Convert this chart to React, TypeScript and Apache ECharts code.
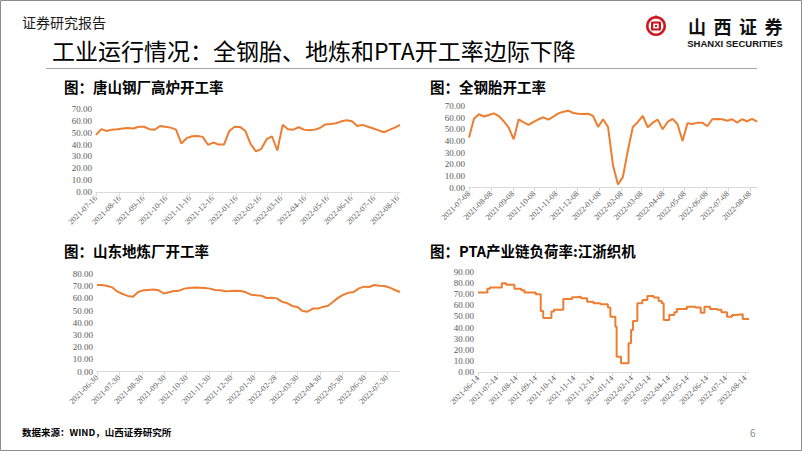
import React, { useEffect, useRef } from "react";
import * as echarts from "echarts";

const ORANGE = "#ED7D31";

// 图：唐山钢厂高炉开工率 (weekly, from 2021-07-16)
const tangshanStart = "2021-07-16";
const tangshanValues = [
  48.2, 53, 51.5, 52.6, 53, 53.5, 54, 53.6, 55, 55,
  53, 52.5, 55.7, 55, 54.3, 52.6, 40.9, 45.4, 47, 47.3,
  46.5, 39.8, 41.7, 40, 40, 51.5, 55, 54.9, 51.5, 40.3,
  34.2, 36.4, 44.5, 47, 35, 56.6, 53, 52.6, 54.6, 52.6,
  52, 52.6, 54, 57, 57.4, 58, 59.6, 60.5, 59.6, 55.7,
  56.6, 55, 53.5, 52, 50.4, 52.4, 54.3, 56.6,
];

// 图：全钢胎开工率 (weekly, from 2021-07-08)
const tyreStart = "2021-07-08";
const tyreValues = [
  42.9, 59, 62.9, 61, 62.3, 63.7, 61.4, 56.9, 51.4, 41.4,
  58.6, 56, 53.7, 56.3, 58.6, 60.3, 58.3, 60.9, 63.7, 65.1,
  66, 64, 63.4, 63.1, 63.4, 61.4, 52, 58.6, 52, 19.1,
  2.6, 9.1, 32, 52, 56.3, 61.4, 51.7, 55.7, 58.3, 50,
  56.3, 58.9, 54.3, 40, 55.1, 54.6, 55.7, 55.7, 52.6, 58.6,
  58.9, 58.6, 57.4, 58.6, 55.7, 58.6, 56.9, 59, 56.6,
];

// 图：山东地炼厂开工率 (weekly, from 2021-06-30)
const refineryStart = "2021-06-30";
const refineryValues = [
  71, 71, 70.2, 69, 65.5, 63.6, 62, 61.4, 65.2, 66.6,
  66.9, 67.2, 66.6, 64, 65, 66, 66.3, 68, 68.5, 69,
  68.8, 68.5, 68, 66.9, 66.6, 65.8, 66, 66.3, 66, 65,
  63, 62.5, 62.2, 60.3, 60.6, 60, 57.3, 56.2, 53.8, 53,
  49.7, 49.1, 51.6, 51.6, 53, 54, 57.3, 60.6, 63, 64.7,
  65.2, 68.2, 69.6, 69.3, 71, 70.4, 70.2, 68.8, 66.9, 65.2,
];

// 图：PTA产业链负荷率:江浙织机 (values hold until the next date)
const ptaDates = [
  "2021-06-14", "2021-06-29", "2021-07-03", "2021-07-22", "2021-07-29",
  "2021-08-11", "2021-08-22", "2021-08-27", "2021-09-14", "2021-09-22",
  "2021-09-26", "2021-10-09", "2021-10-13", "2021-10-28", "2021-11-11",
  "2021-11-18", "2021-11-25", "2021-12-05", "2021-12-15", "2021-12-26",
  "2022-01-07", "2022-01-11", "2022-01-19", "2022-01-21", "2022-01-28",
  "2022-02-09", "2022-02-13", "2022-02-16", "2022-02-23", "2022-03-03",
  "2022-03-11", "2022-03-21", "2022-03-29", "2022-04-03", "2022-04-06",
  "2022-04-15", "2022-04-23", "2022-04-27", "2022-05-13", "2022-05-27",
  "2022-06-04", "2022-06-10", "2022-06-19", "2022-06-30", "2022-07-07",
  "2022-07-16", "2022-07-24", "2022-07-30", "2022-08-10", "2022-08-20",
];
const ptaValues = [
  71.5, 75, 76, 79.8, 78.6,
  75, 73.5, 71.5, 70, 55,
  48.5, 54.5, 56, 65.7, 67.2,
  67.8, 66.3, 63.3, 61.8, 60.9,
  58, 49.8, 40.8, 13.8, 7.8,
  25.8, 37.8, 46, 61.8, 64.8,
  68.4, 67, 64, 61.8, 46.8,
  51.3, 53.7, 56.7, 58.8, 58,
  53.4, 58.8, 56.7, 56, 53.7,
  49.8, 51.3, 51.9, 47.7, 47.7,
];

const yMaxes = [70, 70, 80, 90];
const titles = [
  "图：唐山钢厂高炉开工率",
  "图：全钢胎开工率",
  "图：山东地炼厂开工率",
  "图：PTA产业链负荷率:江浙织机",
];

function addDays(s: string, n: number): string {
  const d = new Date(s + "T00:00:00Z");
  d.setUTCDate(d.getUTCDate() + n);
  return d.toISOString().slice(0, 10);
}
function dayRange(start: string, end: string): string[] {
  const out: string[] = [];
  let d = start;
  while (d <= end) {
    out.push(d);
    d = addDays(d, 1);
  }
  return out;
}
function weekly(start: string, n: number): string[] {
  return Array.from({ length: n }, (_, i) => addDays(start, 7 * i));
}

const CN = '"Noto Sans CJK SC", sans-serif';
const SERIF = '"Liberation Serif", serif';

export default function App() {
  const ref = useRef<HTMLDivElement>(null);
  useEffect(() => {
    if (!ref.current) return;
    const chart = echarts.init(ref.current, undefined, { renderer: "svg" });

    const d1 = weekly(tangshanStart, tangshanValues.length);
    const d2 = weekly(tyreStart, tyreValues.length);
    const d3 = weekly(refineryStart, refineryValues.length);
    const d4 = ptaDates;

    const sets = [
      { dates: d1, values: tangshanValues, fn: (_: number, v: string) => v.slice(8) === "16", step: false as any },
      { dates: d2, values: tyreValues, fn: (_: number, v: string) => v.slice(8) === "08", step: false as any },
      {
        dates: d3,
        values: refineryValues,
        fn: (_: number, v: string) => v.slice(8) === "30" || v.slice(5) === "02-28",
        step: false as any,
      },
      { dates: d4, values: ptaValues, fn: (_: number, v: string) => v.slice(8) === "14", step: "end" as any },
    ];

    const grids = [
      { left: 96, top: 109, width: 304, height: 83 },
      { left: 469, top: 106, width: 288, height: 81.5 },
      { left: 97, top: 274, width: 303, height: 97.5 },
      { left: 478, top: 272, width: 271, height: 100 },
    ];

    const panels = sets.map((s) => {
      const cats = dayRange(s.dates[0], s.dates[s.dates.length - 1]);
      const data = s.dates.map((d, i) => [cats.indexOf(d), s.values[i]]);
      return { ...s, cats, data };
    });

    const subtitlePos = [
      [64, 86],
      [430, 86],
      [64, 250.5],
      [430, 250.5],
    ];

    const graphic: any[] = [
      {
        type: "rect",
        shape: { x: 0.5, y: 0.5, width: 801, height: 450 },
        style: { fill: "none", stroke: "#8c8c8c", lineWidth: 1 },
        silent: true,
      },
      {
        type: "text",
        x: 22,
        y: 22,
        style: { text: "证券研究报告", font: `14px ${CN}`, fill: "#1a1a1a", verticalAlign: "middle" },
      },
      {
        type: "text",
        x: 52,
        y: 50,
        style: {
          text: "工业运行情况：全钢胎、地炼和PTA开工率边际下降",
          font: `23px ${CN}`,
          fill: "#000000",
          verticalAlign: "middle",
        },
      },
      {
        type: "line",
        shape: { x1: 46, y1: 68.5, x2: 757, y2: 68.5 },
        style: { stroke: "#a6a6a6", lineWidth: 1 },
      },
      // logo emblem
      { type: "circle", shape: { cx: 656, cy: 26, r: 10 }, style: { fill: "#C8161D" } },
      { type: "circle", shape: { cx: 656, cy: 26, r: 7.4 }, style: { fill: "#ffffff" } },
      { type: "rect", shape: { x: 651, y: 21.5, width: 10, height: 9, r: 1 }, style: { fill: "#C8161D" } },
      { type: "rect", shape: { x: 653.3, y: 23.6, width: 5.4, height: 4.8 }, style: { fill: "#ffffff" } },
      { type: "rect", shape: { x: 655, y: 25, width: 2, height: 2 }, style: { fill: "#C8161D" } },
      { type: "rect", shape: { x: 655, y: 15.5, width: 2, height: 3 }, style: { fill: "#C8161D" } },
      ...["山", "西", "证", "券"].map((ch, i) => ({
        type: "text",
        x: 697 + i * 25.5,
        y: 25.5,
        style: {
          text: ch,
          font: `bold 18px ${CN}`,
          fill: "#111111",
          align: "center",
          verticalAlign: "middle",
        },
      })),
      {
        type: "text",
        x: 735,
        y: 43.5,
        style: {
          text: "SHANXI SECURITIES",
          font: `bold 9.5px "Liberation Sans", sans-serif`,
          fill: "#111111",
          align: "center",
          verticalAlign: "middle",
        },
      },
      ...titles.map((t, i) => ({
        type: "text",
        x: subtitlePos[i][0],
        y: subtitlePos[i][1],
        style: { text: t, font: `bold 14.5px ${CN}`, fill: "#000000", verticalAlign: "middle" },
      })),
      {
        type: "text",
        x: 22,
        y: 432,
        style: { text: "数据来源：WIND，山西证券研究所", font: `bold 9.5px ${CN}`, fill: "#000000", verticalAlign: "middle" },
      },
      {
        type: "text",
        x: 750,
        y: 432,
        style: { text: "6", font: `10px ${CN}`, fill: "#8c8c8c", verticalAlign: "middle" },
      },
    ];

    const option: any = {
      animation: false,
      backgroundColor: "#ffffff",
      grid: grids.map((g) => ({ ...g, containLabel: false, outerBoundsMode: "none" })),
      xAxis: panels.map((p, k) => ({
        type: "category",
        gridIndex: k,
        data: p.cats,
        boundaryGap: false,
        axisLine: { show: true, lineStyle: { color: "#d9d9d9", width: 1 } },
        axisTick: { show: true, interval: p.fn, length: 4, lineStyle: { color: "#d9d9d9" } },
        axisLabel: {
          interval: p.fn,
          rotate: 45,
          fontSize: 8,
          color: "#595959",
          fontFamily: SERIF,
          margin: 5,
        },
        splitLine: { show: false },
      })),
      yAxis: panels.map((p, k) => ({
        type: "value",
        gridIndex: k,
        min: 0,
        max: yMaxes[k],
        interval: 10,
        axisLine: { show: false },
        axisTick: { show: false },
        splitLine: { show: false },
        axisLabel: {
          formatter: (v: number) => v.toFixed(2),
          fontSize: 9,
          color: "#595959",
          fontFamily: SERIF,
          margin: 4,
        },
      })),
      series: panels.map((p, k) => ({
        type: "line",
        xAxisIndex: k,
        yAxisIndex: k,
        data: p.data,
        showSymbol: false,
        symbol: "none",
        step: p.step,
        lineStyle: { color: ORANGE, width: 2 },
        itemStyle: { color: ORANGE },
      })),
      graphic,
    };

    chart.setOption(option);
    return () => chart.dispose();
  }, []);

  return (
    <div
      ref={ref}
      style={{ position: "fixed", left: 0, top: 0, width: 802, height: 451, background: "#fff" }}
    />
  );
}
